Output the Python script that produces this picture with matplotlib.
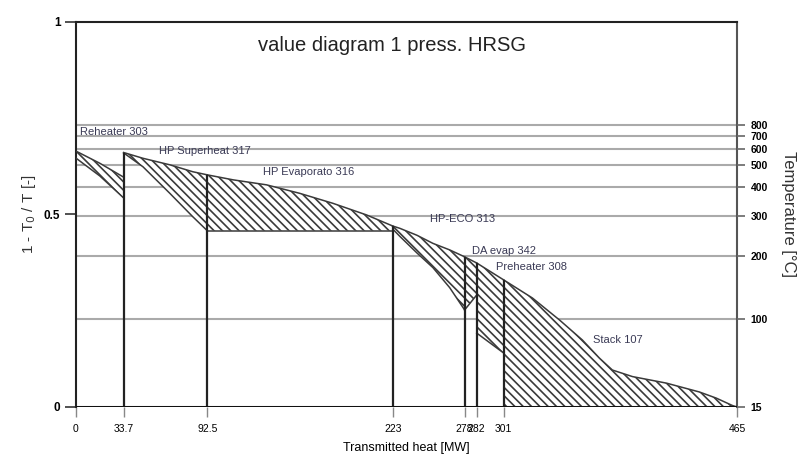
import matplotlib.pyplot as plt

plt.rcParams['font.family'] = ['Liberation Sans Narrow', 'Liberation Sans', 'DejaVu Sans']
plt.rcParams['hatch.linewidth'] = 1.2

# section boundaries (transmitted heat, MW) and exergy factor values
x_rh = [0, 17, 33.7]
gas_rh = [0.665, 0.633, 0.597]
steam_rh = [0.647, 0.600, 0.543]

x_sh = [33.7, 47.3, 66.2, 82.4, 92.5]
gas_sh = [0.661, 0.646, 0.629, 0.611, 0.603]
steam_sh = [0.660, 0.624, 0.555, 0.494, 0.458]

x_ev = [92.5, 110.7, 134.2, 157.5, 180.9, 204.4, 223]
gas_ev = [0.603, 0.590, 0.577, 0.555, 0.529, 0.499, 0.470]
steam_ev = [0.458, 0.458, 0.458, 0.458, 0.458, 0.458, 0.458]

x_eco = [223, 228, 240, 251.2, 263, 273.5]
gas_eco = [0.470, 0.464, 0.446, 0.425, 0.408, 0.390]
steam_eco = [0.462, 0.443, 0.400, 0.362, 0.310, 0.252]

x_da = [273.5, 282]
gas_da = [0.390, 0.374]
steam_da = [0.252, 0.291]

x_ph = [282, 301]
gas_ph = [0.374, 0.330]
steam_ph = [0.192, 0.140]

x_st = [301, 321.2, 340.2, 356.3, 368.3, 377.4, 391.5, 415.4, 438.6, 450.5, 461.7, 465]
gas_st = [0.330, 0.283, 0.226, 0.174, 0.127, 0.096, 0.079, 0.062, 0.039, 0.023, 0.004, 0.0]
steam_st = [0, 0, 0, 0, 0, 0, 0, 0, 0, 0, 0, 0]

sections = [
    (x_rh, gas_rh, steam_rh),
    (x_sh, gas_sh, steam_sh),
    (x_ev, gas_ev, steam_ev),
    (x_eco, gas_eco, steam_eco),
    (x_da, gas_da, steam_da),
    (x_ph, gas_ph, steam_ph),
    (x_st, gas_st, steam_st),
]

labels = ['Reheater 303', 'HP Superheat 317', 'HP Evaporato 316', 'HP-ECO 313',
          'DA evap 342', 'Preheater 308', 'Stack 107']
label_x = [3.0, 58.5, 131.6, 248.8, 278.4, 295.9, 364]
label_y = [0.714, 0.665, 0.610, 0.488, 0.405, 0.364, 0.174]

x_ticks = [0, 33.7, 92.5, 223, 273.5, 282, 301, 465]
x_tick_labels = ['0', '33.7', '92.5', '223', '278', '282', '301', '465']

temps = [800, 700, 600, 500, 400, 300, 200, 100]
T0 = 288.15


def exergy(t):
    return 1 - T0 / (t + 273.15)


fig = plt.figure(figsize=(8, 4.59), dpi=100)
ax = fig.add_axes([0.0946, 0.1133, 0.8266, 0.8388])
ax.set_xlim(0, 465)
ax.set_ylim(0, 1)

for t in temps:
    ax.axhline(exergy(t), color='#aaaaaa', lw=1.5, zorder=1)

for xs, top, bot in sections:
    ax.fill_between(xs, bot, top, facecolor='white', edgecolor='#3a3a3a',
                    hatch='\\\\\\\\', linewidth=0, zorder=2)
    ax.plot(xs, top, color='#3a3a3a', lw=1.1, zorder=3)
    ax.plot(xs, bot, color='#3a3a3a', lw=1.1, zorder=3)

# vertical section separators up to the gas line
for xs, top, bot in sections[1:]:
    ax.vlines(xs[0], 0, top[0], color='#222222', lw=1.6, zorder=4)

for name, lx, ly in zip(labels, label_x, label_y):
    ax.text(lx, ly, name, fontsize=8, color='#3a3a55', va='center', ha='left', zorder=5)

ax.text(0.478, 0.94, 'value diagram 1 press. HRSG', transform=ax.transAxes,
        ha='center', va='center', fontsize=14.5, color='#222222')

ax.axhline(0, color='#111111', lw=2.2, zorder=5)
for s in ['left', 'top']:
    ax.spines[s].set_linewidth(1.5)
    ax.spines[s].set_color('#222222')
ax.spines['right'].set_linewidth(1.5)
ax.spines['right'].set_color('#555555')
ax.spines['bottom'].set_visible(False)

ax.set_xticks(x_ticks)
ax.set_xticklabels(x_tick_labels, fontsize=7.5)
ax.tick_params(axis='x', length=7, width=1, color='#888888', pad=5)
ax.set_yticks([0, 0.5, 1])
ax.set_yticklabels(['0', '0.5', '1'], fontsize=8.5, fontweight='bold')
ax.tick_params(axis='y', length=8, width=1.2, color='#333333', pad=3)
ax.set_xlabel('Transmitted heat [MW]', fontsize=9, labelpad=6)
ax.set_ylabel('1 - T$_0$ / T [-]', fontsize=11, labelpad=4, color='#333333',
              family=['Liberation Sans', 'DejaVu Sans'])

ax2 = ax.twinx()
ax2.set_ylim(0, 1)
ax2.set_yticks([exergy(t) for t in temps] + [0])
ax2.set_yticklabels([str(t) for t in temps] + ['15'], fontsize=7.5, fontweight='bold')
ax2.tick_params(axis='y', length=6, width=1.2, color='#666666', pad=4)
for s in ax2.spines.values():
    s.set_visible(False)
ax2.set_ylabel('Temperature [°C]', fontsize=12, rotation=270, labelpad=20, color='#333333',
               family=['Liberation Sans', 'DejaVu Sans'])

fig.savefig('out.png', dpi=100)
